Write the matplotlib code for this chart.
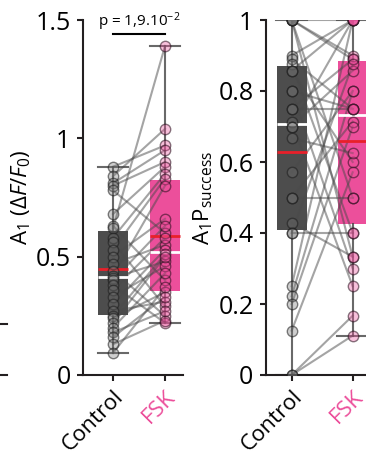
import matplotlib
matplotlib.use("Agg")
import matplotlib.pyplot as plt
from matplotlib.lines import Line2D
import numpy as np

plt.rcParams['font.family'] = ['Open Sans', 'DejaVu Sans']
plt.rcParams['mathtext.fontset'] = 'custom'
plt.rcParams['mathtext.rm'] = 'Open Sans'
plt.rcParams['mathtext.it'] = 'Open Sans:italic'

# ---------------- data ----------------
groups = ["Control", "FSK"]
group_colors = ["#4d4d4d", "#ec4f9b"]
label_colors = ["#000000", "#ec4f9b"]

# Panel 1: A1 (dF/F0), paired values
amp_control = [0.88, 0.84, 0.81, 0.80, 0.78, 0.68, 0.63, 0.62, 0.58, 0.56,
               0.53, 0.50, 0.47, 0.44, 0.42, 0.41, 0.40, 0.38, 0.36, 0.33,
               0.30, 0.27, 0.25, 0.24, 0.22, 0.20, 0.18, 0.16, 0.13, 0.093]
amp_fsk = [0.97, 1.04, 0.95, 0.90, 0.60, 0.88, 0.40, 1.39, 0.85, 0.29,
           0.83, 0.66, 0.55, 0.25, 0.80, 0.48, 0.63, 0.22, 0.58, 0.46,
           0.53, 0.31, 0.51, 0.35, 0.50, 0.43, 0.27, 0.33, 0.23, 0.37]

# Panel 2: A1 P_success, paired values
ps_control = [1, 1, 1, 1, 1, 0.9, 0.889, 0.875, 0.857, 0.857,
              0.8, 0.8, 0.75, 0.75, 0.714, 0.7, 0.7, 0.667, 0.571, 0.5,
              0.5, 0.429, 0.4, 0.4, 0.25, 0.222, 0.2, 0.125, 0, 0]
ps_fsk = [0.889, 0.9, 0.5, 1, 0.333, 1, 0.75, 0.4, 1, 0.6,
          0.75, 0.3, 0.889, 0.75, 0.25, 1, 0.857, 0.625, 0.8, 0.5,
          0.714, 0.333, 0.875, 0.4, 1, 0.8, 0.7, 0.571, 0.167, 0.111]

amp_ticks = [0, 0.5, 1, 1.5]
amp_ticklabels = ["0", "0.5", "1", "1.5"]
ps_ticks = [0, 0.2, 0.4, 0.6, 0.8, 1]
ps_ticklabels = ["0", "0.2", "0.4", "0.6", "0.8", "1"]
p_text = r"p = 1,9.10$^{-2}$"
p_y = 1.44

# ---------------- figure ----------------
W, H = 366, 457
fig = plt.figure(figsize=(W / 100, H / 100), dpi=100)

def px_axes(x0, x1, ytop, ybot):
    return fig.add_axes([x0 / W, (H - ybot) / H, (x1 - x0) / W, (ybot - ytop) / H])

ax1 = px_axes(83, 183, 20, 375)
ax2 = px_axes(266, 380, 20, 375)

spine_col = "#231f20"
FS_Y = 18
FS_X = 16
FS_LAB = 16


def panel(ax, a, b, width, capw, xlim, ylim, ticks, ticklabels, ylabel, labelx):
    pos = [1, 2]
    bp = ax.boxplot([a, b], positions=pos, widths=width, whis=(0, 100),
                    patch_artist=True, showfliers=False, showmeans=True,
                    meanline=True, capwidths=capw,
                    medianprops=dict(color="white", lw=2, zorder=3),
                    meanprops=dict(color="#e8202a", lw=2, ls="-", zorder=3.1),
                    whiskerprops=dict(color="#444444", lw=1.5, alpha=0.8),
                    capprops=dict(color="#444444", lw=1.5, alpha=0.8),
                    boxprops=dict(lw=0))
    for patch, c in zip(bp["boxes"], group_colors):
        patch.set_facecolor(c)
        patch.set_edgecolor("none")
        patch.set_zorder(1)
    # paired lines
    for va, vb in zip(a, b):
        ax.plot(pos, [va, vb], color="#4a4a4a", alpha=0.5, lw=1.5, zorder=2)
    # points
    ax.plot(np.full(len(a), 1.0), a, "o", ms=7.5, mfc=(0.45, 0.45, 0.45, 0.35),
            mec=(0.1, 0.1, 0.1, 0.55), mew=1.0, ls="none", zorder=4)
    ax.plot(np.full(len(b), 2.0), b, "o", ms=7.5, mfc=(0.93, 0.31, 0.61, 0.35),
            mec=(0.15, 0.05, 0.1, 0.55), mew=1.0, ls="none", zorder=4)

    ax.set_xlim(*xlim)
    ax.set_ylim(*ylim)
    ax.set_yticks(ticks)
    ax.set_yticklabels(ticklabels)
    ax.set_xticks(pos)
    ax.set_xticklabels(groups, rotation=45, ha="right", rotation_mode="anchor")
    for t, c in zip(ax.get_xticklabels(), label_colors):
        t.set_color(c)
    for s in ["top", "right"]:
        ax.spines[s].set_visible(False)
    for s in ["left", "bottom"]:
        ax.spines[s].set_linewidth(1.5)
        ax.spines[s].set_color(spine_col)
    ax.tick_params(axis="both", direction="out", length=4, width=1.5,
                   color=spine_col, pad=5)
    ax.tick_params(axis="y", labelsize=FS_Y)
    ax.tick_params(axis="x", labelsize=FS_X, pad=4)
    ax.set_ylabel(ylabel, fontsize=FS_LAB)
    ax.yaxis.set_label_coords(labelx, 0.5)
    ax.patch.set_visible(False)


panel(ax1, amp_control, amp_fsk, 0.56, 0.58, (0.423, 2.346), (0, 1.5),
      amp_ticks, amp_ticklabels, r"A$_1$ ($\Delta F/F_0$)", -0.50)
panel(ax2, ps_control, ps_fsk, 0.49, 0.5, (0.579, 2.448), (0, 1),
      ps_ticks, ps_ticklabels, r"A$_1$P$_{\mathrm{success}}$", -0.45)

# significance bar
ax1.plot([1, 2], [p_y, p_y], color="black", lw=1.5, clip_on=False, zorder=5)
ax1.text(1.5, p_y + 0.006, p_text, ha="center", va="bottom", fontsize=11)

# remnants of a neighbouring panel at the left edge
for yy in [324, 375]:
    fig.add_artist(Line2D([0, 7 / W], [(H - yy) / H] * 2, color=spine_col, lw=1.5))

fig.savefig("out.png", dpi=100)
